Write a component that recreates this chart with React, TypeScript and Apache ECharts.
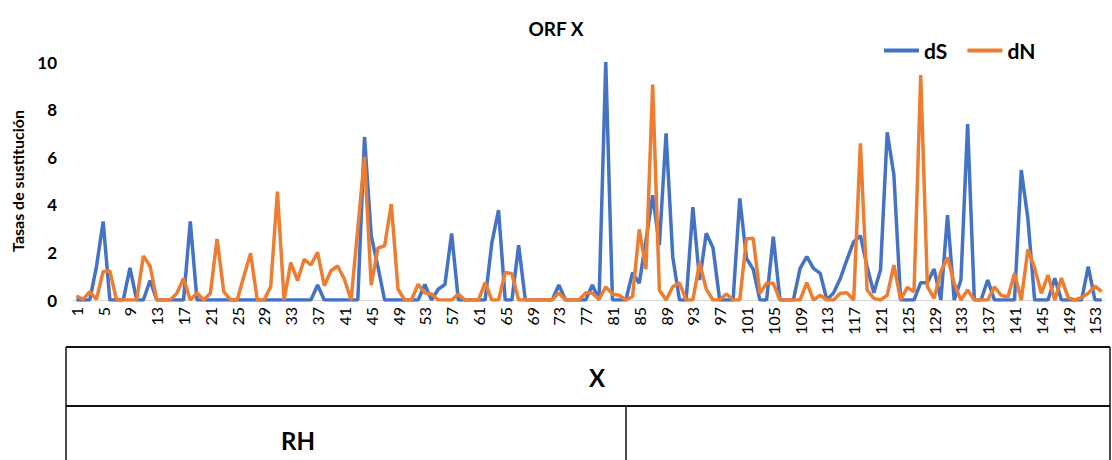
import React, { useEffect, useRef } from "react";
import * as echarts from "echarts";

// Sites along ORF X (1..154)
const sites: string[] = Array.from({ length: 154 }, (_, i) => String(i + 1));

// Synonymous substitution rates per site
const dS: number[] = [
  0, 0, 0, 1.4, 3.3, 0, 0, 0, 1.35, 0,
  0, 0.82, 0, 0, 0, 0, 0, 3.3, 0, 0,
  0, 0, 0, 0, 0, 0, 0, 0, 0, 0,
  0, 0, 0, 0, 0, 0, 0.63, 0, 0, 0,
  0, 0, 0, 6.85, 2.7, 1.4, 0, 0, 0, 0,
  0, 0, 0.65, 0, 0.45, 0.65, 2.8, 0, 0, 0,
  0, 0, 2.4, 3.78, 0, 0, 2.3, 0, 0, 0,
  0, 0, 0.63, 0, 0, 0, 0, 0.63, 0, 10,
  0, 0, 0, 1.15, 0.7, 2.5, 4.4, 2.3, 7.0, 1.8,
  0, 0, 3.9, 0.84, 2.8, 2.2, 0, 0, 0, 4.27,
  1.75, 1.3, 0, 0, 2.66, 0, 0, 0, 1.33, 1.82,
  1.33, 1.12, 0, 0.3, 0.9, 1.7, 2.45, 2.7, 1.4, 0.3,
  1.26, 7.05, 5.25, 0, 0, 0, 0.73, 0.73, 1.3, 0,
  3.57, 0, 0.84, 7.39, 0, 0, 0.84, 0, 0, 0,
  0, 5.46, 3.4, 0, 0, 0, 0.91, 0, 0, 0,
  0, 1.4, 0, 0,
];

// Non-synonymous substitution rates per site
const dN: number[] = [
  0.17, 0.03, 0.35, 0.03, 1.2, 1.22, 0, 0, 0, 0,
  1.85, 1.43, 0, 0, 0, 0.28, 0.91, 0, 0.3, 0,
  0.28, 2.56, 0.35, 0, 0, 1.0, 1.96, 0, 0, 0.55,
  4.55, 0, 1.57, 0.81, 1.71, 1.47, 2.0, 0.6, 1.23, 1.43,
  0.87, 0, 3.0, 6.02, 0.62, 2.18, 2.28, 4.03, 0.45, 0,
  0, 0.66, 0.3, 0.25, 0, 0, 0, 0.25, 0, 0,
  0, 0.73, 0, 0, 1.16, 1.1, 0, 0, 0, 0,
  0, 0, 0.3, 0, 0, 0, 0.3, 0.28, 0.03, 0.55,
  0.25, 0.2, 0, 0.14, 2.97, 1.29, 9.05, 0.42, 0, 0.56,
  0.72, 0, 0, 1.57, 0.45, 0, 0, 0.25, 0, 0,
  2.56, 2.6, 0.28, 0.7, 0.7, 0, 0, 0, 0, 0.73,
  0, 0.2, 0, 0, 0.28, 0.3, 0, 6.58, 0.42, 0.07,
  0, 0.2, 1.47, 0, 0.53, 0.35, 9.45, 0.56, 0.07, 1.19,
  1.79, 0.7, 0, 0.42, 0, 0, 0, 0.55, 0.2, 0.12,
  1.12, 0, 2.13, 1.35, 0.28, 1.05, 0, 0.92, 0.1, 0,
  0.1, 0.28, 0.59, 0.35,
];

const yTicks = { min: 0, max: 10, interval: 2 };
const geneLabel = "X";
const regionLabel = "RH";

const FONT = "Lato, 'Open Sans', sans-serif";

export default function App() {
  const ref = useRef<HTMLDivElement>(null);

  useEffect(() => {
    if (!ref.current) return;
    const chart = echarts.init(ref.current, undefined, { renderer: "svg" });
    chart.setOption({
      animation: false,
      backgroundColor: "#ffffff",
      textStyle: { fontFamily: FONT },
      title: {
        text: "ORF X",
        left: "center",
        top: 14,
        textStyle: { fontFamily: FONT, fontSize: 19, fontWeight: "bold", color: "#000" },
      },
      legend: {
        data: ["dS", "dN"],
        left: 879,
        top: 35,
        icon: "rect",
        itemWidth: 35,
        itemHeight: 4,
        itemGap: 20,
        textStyle: { fontFamily: FONT, fontSize: 21, fontWeight: "bold", color: "#000" },
      },
      grid: { left: 73, right: 7, top: 62, bottom: 160, containLabel: false },
      xAxis: {
        type: "category",
        data: sites,
        boundaryGap: true,
        axisLine: { show: true, lineStyle: { color: "#d9d9d9", width: 1 } },
        axisTick: { show: false },
        axisLabel: {
          interval: 3,
          rotate: 90,
          margin: 7,
          fontFamily: FONT,
          fontSize: 16,
          color: "#000",
        },
        splitLine: { show: false },
      },
      yAxis: {
        type: "value",
        min: yTicks.min,
        max: yTicks.max,
        interval: yTicks.interval,
        name: "Tasas de sustitución",
        nameLocation: "middle",
        nameGap: 48,
        nameTextStyle: { fontFamily: FONT, fontSize: 16, fontWeight: "bold", color: "#000" },
        axisLine: { show: false },
        axisTick: { show: false },
        axisLabel: { margin: 16, fontFamily: FONT, fontSize: 17, fontWeight: "bold", color: "#000" },
        splitLine: { show: false },
      },
      series: [
        {
          name: "dS",
          type: "line",
          data: dS,
          symbol: "none",
          lineStyle: { color: "#4472C4", width: 3.5 },
          itemStyle: { color: "#4472C4" },
        },
        {
          name: "dN",
          type: "line",
          data: dN,
          symbol: "none",
          lineStyle: { color: "#ED7D31", width: 3.5 },
          itemStyle: { color: "#ED7D31" },
        },
      ],
      graphic: [
        // Multi-level category table under the axis
        {
          type: "line",
          shape: { x1: 66, y1: 347, x2: 1110, y2: 347 },
          style: { stroke: "#111", lineWidth: 2 },
        },
        {
          type: "line",
          shape: { x1: 66, y1: 406, x2: 1110, y2: 406 },
          style: { stroke: "#111", lineWidth: 2 },
        },
        {
          type: "line",
          shape: { x1: 66, y1: 347, x2: 66, y2: 460 },
          style: { stroke: "#111", lineWidth: 1.5 },
        },
        {
          type: "line",
          shape: { x1: 1110, y1: 347, x2: 1110, y2: 460 },
          style: { stroke: "#111", lineWidth: 1.5 },
        },
        {
          type: "line",
          shape: { x1: 626, y1: 406, x2: 626, y2: 460 },
          style: { stroke: "#111", lineWidth: 1.5 },
        },
        {
          type: "text",
          x: 597,
          y: 377,
          style: {
            text: geneLabel,
            fontFamily: FONT,
            fontSize: 24,
            fontWeight: "bold",
            fill: "#000",
            textAlign: "center",
            textVerticalAlign: "middle",
          },
        },
        {
          type: "text",
          x: 298,
          y: 440,
          style: {
            text: regionLabel,
            fontFamily: FONT,
            fontSize: 24,
            fontWeight: "bold",
            fill: "#000",
            textAlign: "center",
            textVerticalAlign: "middle",
          },
        },
      ],
    });
    return () => chart.dispose();
  }, []);

  return (
    <div
      ref={ref}
      style={{ position: "fixed", left: 0, top: 0, width: 1112, height: 460, background: "#fff" }}
    />
  );
}
